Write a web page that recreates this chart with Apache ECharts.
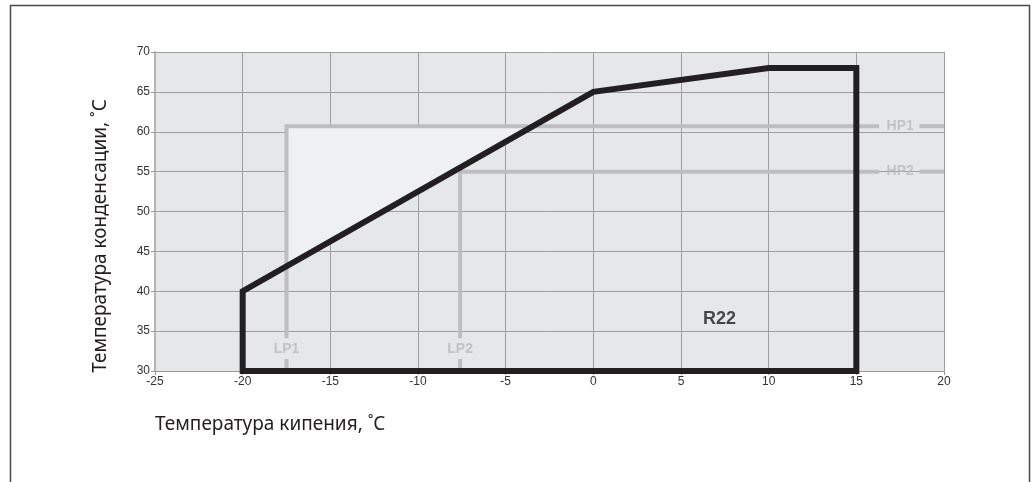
<!DOCTYPE html>
<html>
<head>
<meta charset="utf-8">
<script src="https://cdn.jsdelivr.net/npm/echarts@6/dist/echarts.min.js"></script>
<style>
  html, body { margin: 0; padding: 0; background: #ffffff; }
  #chart { width: 1035px; height: 482px; }
</style>
</head>
<body>
<div id="chart"></div>
<script>
// Operating envelope of an R22 compressor
// evaporating temperature (°C) vs condensing temperature (°C)
const xTicks = [-25, -20, -15, -10, -5, 0, 5, 10, 15, 20];
const yTicks = [30, 35, 40, 45, 50, 55, 60, 65, 70];

// envelope outline (closed polygon)
const envEvap = [-20, -20, 0, 10, 15, 15];
const envCond = [30, 40, 65, 68, 68, 30];

// shaded zone above the envelope slope inside LP1/HP1
const zoneEvap = [-17.5, -3.45, -17.5];
const zoneCond = [60.7, 60.7, 43.1];

// pressure switch limits
const lpNames = ['LP1', 'LP2'];
const lpEvap = [-17.5, -7.6];
const hpNames = ['HP1', 'HP2'];
const hpCond = [60.7, 55];

const refrigerant = 'R22';
const refrigerantAt = [7.2, 36.5];

// label positions along the limit lines and the gaps left around them
const lpLabelCond = 32.8, lpGapTop = 34.1, lpGapBottom = 31.5;
const hpLabelEvap = 17.5, hpGapLeft = 16.3, hpGapRight = 18.6;

const LIMIT_COLOR = '#bdbec1';
const LIMIT_TEXT = '#b9babc';

const series = [];

// shaded zone
series.push({
  type: 'custom',
  clip: false,
  z: 2,
  data: [0],
  renderItem: function (params, api) {
    const pts = zoneEvap.map((x, i) => api.coord([x, zoneCond[i]]));
    return { type: 'polygon', shape: { points: pts }, style: { fill: '#eff0f2', stroke: null } };
  }
});

// LP / HP limit lines, broken where their labels sit
for (let i = 0; i < lpNames.length; i++) {
  const lineStyle = { color: LIMIT_COLOR, width: 4, cap: 'butt', join: 'miter' };
  const common = { type: 'line', symbol: 'none', z: 3, silent: true, animation: false, lineStyle: lineStyle };
  series.push(Object.assign({}, common, {
    data: [[lpEvap[i], lpGapTop], [lpEvap[i], hpCond[i]], [hpGapLeft, hpCond[i]]]
  }));
  series.push(Object.assign({}, common, {
    data: [[lpEvap[i], lpGapBottom], [lpEvap[i], 30]]
  }));
  series.push(Object.assign({}, common, {
    data: [[hpGapRight, hpCond[i]], [20, hpCond[i]]]
  }));
}

// limit labels
const labelData = [];
for (let i = 0; i < lpNames.length; i++) {
  labelData.push({ value: [lpEvap[i], lpLabelCond], name: lpNames[i] });
  labelData.push({ value: [hpLabelEvap, hpCond[i]], name: hpNames[i] });
}
series.push({
  type: 'scatter',
  symbolSize: 0,
  z: 4,
  silent: true,
  data: labelData,
  label: {
    show: true,
    position: 'inside',
    formatter: '{b}',
    color: LIMIT_TEXT,
    fontFamily: 'Liberation Sans, Arial, sans-serif',
    fontWeight: 'bold',
    fontSize: 14
  }
});

// envelope outline
series.push({
  type: 'custom',
  clip: false,
  z: 5,
  data: [0],
  renderItem: function (params, api) {
    const pts = envEvap.map((x, i) => api.coord([x, envCond[i]]));
    return {
      type: 'polygon',
      shape: { points: pts },
      style: { fill: null, stroke: '#231f20', lineWidth: 6, lineJoin: 'miter' }
    };
  }
});

// refrigerant name
series.push({
  type: 'scatter',
  symbolSize: 0,
  z: 6,
  silent: true,
  data: [{ value: refrigerantAt, name: refrigerant }],
  label: {
    show: true,
    position: 'inside',
    formatter: '{b}',
    color: '#1e1b1c',
    fontFamily: 'Liberation Sans, Arial, sans-serif',
    fontWeight: 'bold',
    fontSize: 18
  }
});

const chart = echarts.init(document.getElementById('chart'), null, { renderer: 'canvas' });
chart.setOption({
  animation: false,
  backgroundColor: '#ffffff',
  grid: {
    left: 155, right: 91, top: 52, bottom: 111,
    show: true, backgroundColor: '#e6e7e9', borderWidth: 0
  },
  xAxis: {
    type: 'value',
    min: xTicks[0], max: xTicks[xTicks.length - 1], interval: 5,
    axisLine: { show: true, onZero: false, lineStyle: { color: '#9a9a9c', width: 1 } },
    axisTick: { show: true, length: 4, lineStyle: { color: '#9a9a9c' } },
    axisLabel: { margin: 5, color: '#333333', fontSize: 12, fontFamily: 'Liberation Sans, Arial, sans-serif' },
    splitLine: { show: true, lineStyle: { color: '#9d9ea0', width: 1 } }
  },
  yAxis: {
    type: 'value',
    min: yTicks[0], max: yTicks[yTicks.length - 1], interval: 5,
    axisLine: { show: true, onZero: false, lineStyle: { color: '#b4b5b7', width: 2 } },
    axisTick: { show: true, length: 4, lineStyle: { color: '#9a9a9c' } },
    axisLabel: { margin: 5, color: '#333333', fontSize: 12, fontFamily: 'Liberation Sans, Arial, sans-serif' },
    splitLine: { show: true, lineStyle: { color: '#9d9ea0', width: 1 } }
  },
  graphic: [
    {
      type: 'rect',
      silent: true,
      z: -1,
      shape: { x: 10.5, y: 5.5, width: 1019, height: 520 },
      style: { fill: null, stroke: '#4a4a4a', lineWidth: 1.5 }
    },
    {
      type: 'text',
      x: 101, y: 236,
      rotation: Math.PI / 2,
      style: {
        text: 'Температура конденсации, ˚C',
        fill: '#231f20',
        font: '19px "Noto Sans", sans-serif',
        align: 'center',
        verticalAlign: 'middle'
      }
    },
    {
      type: 'text',
      x: 155, y: 425,
      style: {
        text: 'Температура кипения, ˚C',
        fill: '#231f20',
        font: '19px "Noto Sans", sans-serif',
        align: 'left',
        verticalAlign: 'middle'
      }
    }
  ],
  series: series
});
</script>
</body>
</html>
